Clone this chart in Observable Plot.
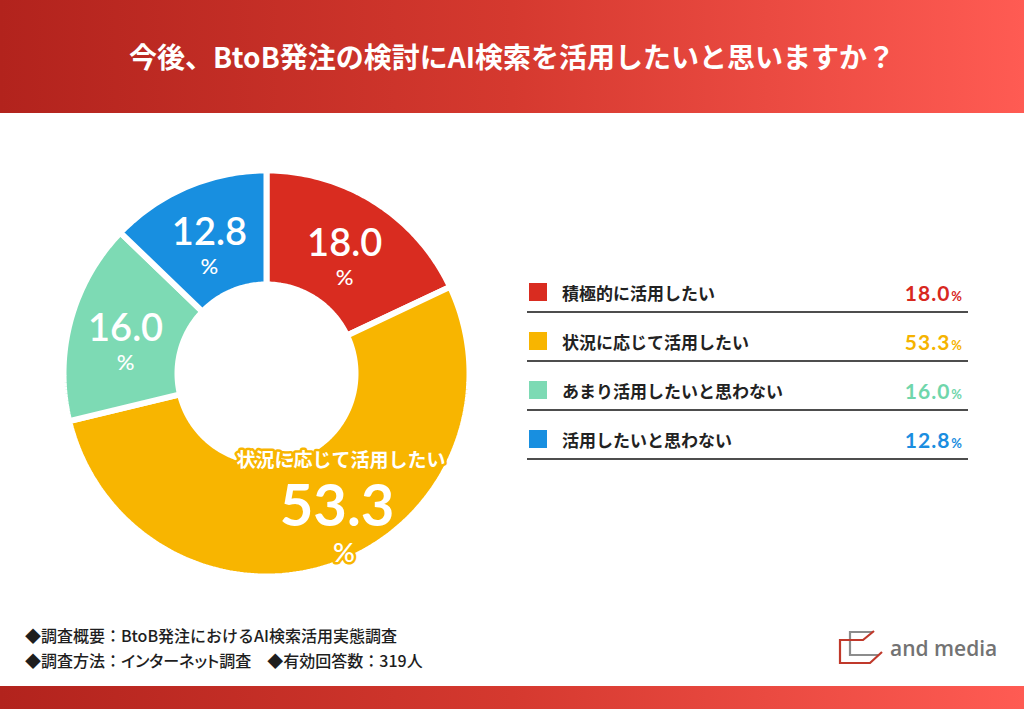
<!DOCTYPE html>
<html lang="ja">
<head>
<meta charset="utf-8">
<script src="https://cdn.jsdelivr.net/npm/d3@7"></script>
<script src="https://cdn.jsdelivr.net/npm/@observablehq/plot@0.6"></script>
<style>
  html, body { margin: 0; padding: 0; background: #fff; }
  body {
    width: 1024px; height: 709px; position: relative; overflow: hidden;
    font-family: "Noto Sans CJK JP", "Noto Sans", sans-serif; color: #222;
  }
  .band { position: absolute; left: 0; width: 1024px;
    background: linear-gradient(90deg, #b2231d 0%, #d5392f 50%, #ff5b53 100%); }
  .header { top: 0; height: 113px; display: flex; align-items: center; justify-content: center; }
  .header h1 { margin: 0; color: #fff; font-size: 28px; font-weight: 700; line-height: 1; padding-bottom: 2px; }
  .footerband { top: 686px; height: 23px; }
  #chart { position: absolute; left: 46px; top: 153px; }
  .legend { position: absolute; left: 527px; top: 264px; width: 441px; }
  .row { display: flex; align-items: center; height: 38px; padding-top: 9px; border-bottom: 2px solid #4d4d4d; }
  .swatch { width: 18px; height: 18px; margin-left: 2px; margin-right: 15px; flex: none; }
  .label { font-size: 17px; font-weight: 700; color: #222; flex: 1; }
  .value { font-family: Lato, "Noto Sans", sans-serif; font-weight: 700; font-size: 21px; letter-spacing: 1px; margin-right: 6px; }
  .value small { font-size: 13px; font-weight: 700; margin-left: 1px; letter-spacing: 0; }
  .notes { position: absolute; left: 25px; top: 623px; font-size: 16px; font-weight: 500; line-height: 25px; color: #1e1e1e; }
  .notes .kana { font-feature-settings: "palt"; }
  .logo { position: absolute; left: 836px; top: 626px; }
</style>
</head>
<body>
<div class="band header"><h1>今後、BtoB発注の検討にAI検索を活用したいと思いますか？</h1></div>
<div id="chart"></div>
<div class="legend" id="legend"></div>
<div class="notes">
  <div>◆調査概要：BtoB発注におけるAI検索活用実態調査</div>
  <div>◆調査方法：<span class="kana">インターネット</span>調査　◆有効回答数：319人</div>
</div>
<svg class="logo" width="170" height="44" viewBox="0 0 170 44">
  <polyline points="37,6 14,6 14,29 42,29" fill="none" stroke="#8c8c8c" stroke-width="2.2"/>
  <polyline points="38,5 27,14 4,14 4,37 34,37 46,26" fill="none" stroke="#c0392b" stroke-width="2.2" stroke-linejoin="miter"/>
  <text x="54" y="30" font-family="'Open Sans', sans-serif" font-weight="600" font-size="21" fill="#737373">and media</text>
</svg>
<div class="band footerband"></div>

<script>
// Survey answers and their shares (%)
const categories = ["積極的に活用したい", "状況に応じて活用したい", "あまり活用したいと思わない", "活用したいと思わない"];
const shares = [18.0, 53.3, 16.0, 12.8];
const colors = ["#d92c20", "#f8b500", "#7ddab4", "#188fe0"];
const valueColors = ["#d8281e", "#f5b300", "#6fd6ab", "#1a8de0"];
const featured = "状況に応じて活用したい";

// Ring geometry in unit space (outer edge slightly past 1 so the white
// separator stroke leaves a visible radius of 1)
const R_OUT = 1.015, R_IN = 0.445, R_LABEL = 0.73;

const arcs = d3.pie().sort(null).value(d => d)(shares);

// Closed outline for each slice, sampled along the outer and inner arcs
const ring = [];
arcs.forEach((a, i) => {
  const cat = categories[i];
  const n = Math.max(2, Math.ceil((a.endAngle - a.startAngle) / (Math.PI / 180)));
  const pts = [];
  for (let k = 0; k <= n; k++) {
    const t = a.startAngle + (a.endAngle - a.startAngle) * k / n;
    pts.push({cat, x: R_OUT * Math.sin(t), y: R_OUT * Math.cos(t)});
  }
  for (let k = n; k >= 0; k--) {
    const t = a.startAngle + (a.endAngle - a.startAngle) * k / n;
    pts.push({cat, x: R_IN * Math.sin(t), y: R_IN * Math.cos(t)});
  }
  pts.push({...pts[0]});
  ring.push(...pts);
});

// Label anchors at the middle of each slice
const slices = arcs.map((a, i) => {
  const mid = (a.startAngle + a.endAngle) / 2;
  return {cat: categories[i], value: shares[i], x: R_LABEL * Math.sin(mid), y: R_LABEL * Math.cos(mid)};
});
const minor = slices.filter(d => d.cat !== featured);
const major = slices.filter(d => d.cat === featured);

const numFont = "Lato, 'Noto Sans', sans-serif";
const jpFont = "'Noto Sans CJK JP', sans-serif";
const halo = {stroke: "#f8b500", strokeWidth: 5, strokeLinejoin: "round", paintOrder: "stroke"};

const chart = Plot.plot({
  width: 440,
  height: 440,
  margin: 0,
  style: {background: "transparent", overflow: "visible"},
  x: {domain: [-1.1, 1.1], axis: null},
  y: {domain: [-1.1, 1.1], axis: null},
  color: {domain: categories, range: colors},
  marks: [
    Plot.line(ring, {x: "x", y: "y", z: "cat", fill: "cat", stroke: "#fff", strokeWidth: 6, strokeLinejoin: "miter"}),
    // smaller slices: value and percent sign
    Plot.text(minor, {x: "x", y: "y", text: d => d.value.toFixed(1), fill: "#fff",
      fontFamily: numFont, fontWeight: 600, fontSize: 38, dy: -6}),
    Plot.text(minor, {x: "x", y: "y", text: () => "%", fill: "#fff",
      fontFamily: numFont, fontWeight: 500, fontSize: 22, dy: 28}),
    // featured slice: category name, large value, percent sign
    Plot.text(major, {x: "x", y: "y", text: "cat", fill: "#fff", ...halo,
      fontFamily: jpFont, fontWeight: 700, fontSize: 19, dx: 26, dy: -50}),
    Plot.text(major, {x: "x", y: "y", text: d => d.value.toFixed(1), fill: "#fff", ...halo,
      fontFamily: numFont, fontWeight: 700, fontSize: 58, dx: 22, dy: -4}),
    Plot.text(major, {x: "x", y: "y", text: () => "%", fill: "#fff", ...halo,
      fontFamily: numFont, fontWeight: 600, fontSize: 27, dx: 29, dy: 42})
  ]
});
document.getElementById("chart").append(chart);

// Legend rows built from the same arrays
const legend = document.getElementById("legend");
categories.forEach((c, i) => {
  const row = document.createElement("div");
  row.className = "row";
  row.innerHTML = `<span class="swatch" style="background:${colors[i]}"></span>` +
    `<span class="label">${c}</span>` +
    `<span class="value" style="color:${valueColors[i]}">${shares[i].toFixed(1)}<small>%</small></span>`;
  legend.append(row);
});
</script>
</body>
</html>
